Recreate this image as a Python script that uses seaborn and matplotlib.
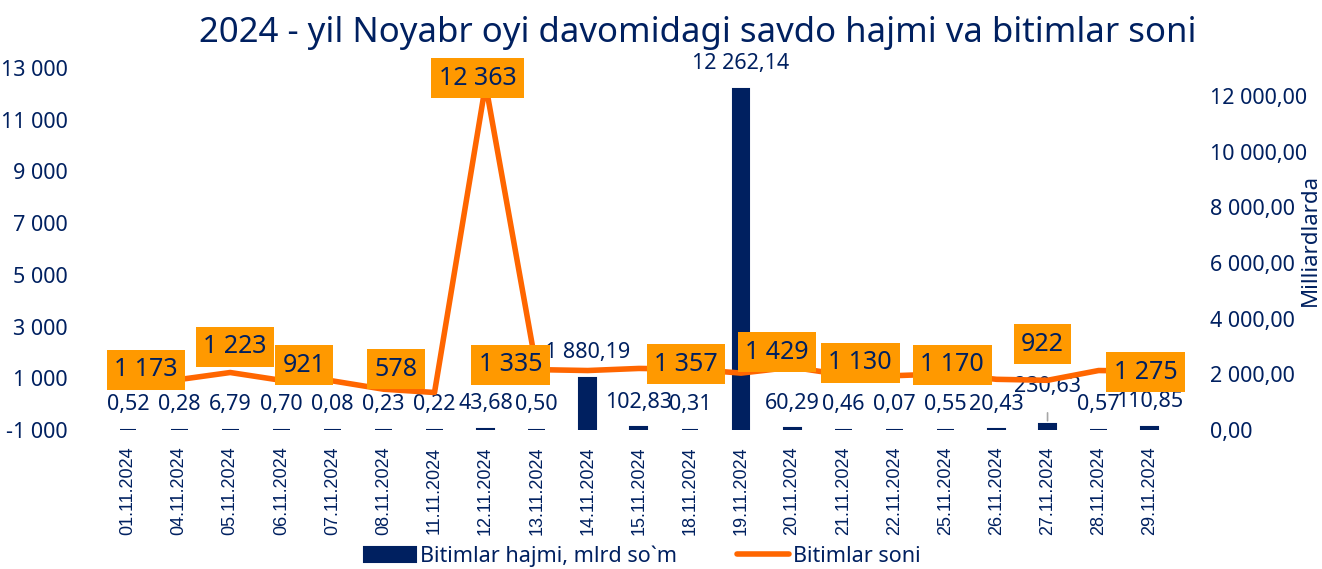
import numpy as np
import pandas as pd
import matplotlib
matplotlib.use("Agg")
import matplotlib.pyplot as plt
import seaborn as sns

sns.set_style("white")
plt.rcParams["font.family"] = ["Noto Sans", "DejaVu Sans"]

navy = "#002060"
line_col = "#FF6600"
box_col = "#FF9900"

dates = ["01.11.2024", "04.11.2024", "05.11.2024", "06.11.2024", "07.11.2024",
         "08.11.2024", "11.11.2024", "12.11.2024", "13.11.2024", "14.11.2024",
         "15.11.2024", "18.11.2024", "19.11.2024", "20.11.2024", "21.11.2024",
         "22.11.2024", "25.11.2024", "26.11.2024", "27.11.2024", "28.11.2024",
         "29.11.2024"]

# trade volume, bln sum (right axis)
hajmi = [0.52, 0.28, 6.79, 0.70, 0.08, 0.23, 0.22, 43.68, 0.50, 1880.19,
         102.83, 0.31, 12262.14, 60.29, 0.46, 0.07, 0.55, 20.43, 230.63, 0.57,
         110.85]

# number of deals (left axis)
soni = [1173, 950, 1223, 921, 900, 578, 450, 12363, 1335, 1300, 1380, 1357,
        1200, 1429, 1130, 1100, 1170, 960, 922, 1300, 1275]

# which points of the line carry a label
soni_labelled = [0, 2, 3, 5, 7, 8, 11, 13, 14, 16, 18, 20]
# label nudges in pixels (dx, dy)
soni_nudge = [(18, 4), (5, 26), (23, 15), (13, 20), (-8, 6), (-26, 5),
              (-4, 5), (-15, 15), (17, 12), (7, 9), (-5, 36), (-4, -1)]

left_ticks = list(range(-1000, 13001, 2000))
right_ticks = list(range(0, 12001, 2000))

df = pd.DataFrame({"sana": dates, "hajmi": hajmi, "soni": soni,
                   "pos": np.arange(len(dates))})


def fmt_int(v):
    return f"{v:,.0f}".replace(",", " ")


def fmt_dec(v):
    return f"{v:,.2f}".replace(",", " ").replace(".", ",")


fig = plt.figure(figsize=(13.22, 5.69), dpi=100)
ax = fig.add_axes([0.0775, 0.2443, 0.8115, 0.6362])

sns.barplot(data=df, x="sana", y="hajmi", color=navy, width=0.33,
            edgecolor=navy, linewidth=1.5, saturation=1,
            label="Bitimlar hajmi, mlrd so`m", ax=ax)
ax.set_ylim(0, 13000)
ax.set_xlim(-0.5, len(dates) - 0.5)
ax.set_xlabel("")
ax.set_ylabel("")
ax.tick_params(axis="x", length=0, pad=12, labelcolor=navy)
for lab in ax.get_xticklabels():
    lab.set_rotation(90)
    lab.set_fontfamily(["Liberation Sans", "DejaVu Sans"])
    lab.set_fontsize(13)

# bar value labels
for i, v in enumerate(hajmi):
    if dates[i] == "27.11.2024":
        ax.annotate(fmt_dec(v), (i, v), xytext=(0, 37), textcoords="offset pixels",
                    ha="center", va="center", fontsize=15.5, color=navy,
                    arrowprops=dict(arrowstyle="-", color="#A6A6A6", lw=1.2,
                                    shrinkA=9, shrinkB=2),
                    annotation_clip=False)
    else:
        ax.annotate(fmt_dec(v), (i, v), xytext=(0, 25), textcoords="offset pixels",
                    ha="center", va="center", fontsize=15.5, color=navy,
                    annotation_clip=False)

ax2 = ax.twinx()
sns.lineplot(data=df, x="pos", y="soni", color=line_col, linewidth=4,
             label="Bitimlar soni", ax=ax2)
ax2.set_ylim(-1000, 13000)
ax2.set_ylabel("")

# bars belong to the right axis, deals count to the left one
ax.yaxis.tick_right()
ax.set_yticks(right_ticks)
ax.set_yticklabels([fmt_dec(v) for v in right_ticks])
ax.tick_params(axis="y", length=0, pad=25, labelsize=15.5, labelcolor=navy)
ax2.yaxis.tick_left()
ax2.set_yticks(left_ticks)
ax2.set_yticklabels([fmt_int(v) for v in left_ticks])
ax2.tick_params(axis="y", length=0, pad=25, labelsize=15.5, labelcolor=navy)

for k, i in enumerate(soni_labelled):
    dx, dy = soni_nudge[k]
    ax2.annotate(fmt_int(soni[i]), (i, soni[i]), xytext=(dx, dy),
                 textcoords="offset pixels", ha="center", va="center",
                 fontsize=18, color=navy, annotation_clip=False,
                 bbox=dict(boxstyle="square,pad=0.3", fc=box_col, ec="none"))

for a in (ax, ax2):
    for s in a.spines.values():
        s.set_visible(False)

h1, l1 = ax.get_legend_handles_labels()
h2, l2 = ax2.get_legend_handles_labels()
for a in (ax, ax2):
    if a.get_legend() is not None:
        a.get_legend().remove()
fig.legend(h1 + h2, l1 + l2, loc="center", bbox_to_anchor=(0.486, 0.023),
           ncol=2, frameon=False, fontsize=15.5, labelcolor=navy,
           handlelength=2.4, handletextpad=0.2, columnspacing=2.8)

fig.text(0.528, 0.942, "2024 - yil Noyabr oyi davomidagi savdo hajmi va bitimlar soni",
         ha="center", va="center", fontsize=25, color=navy)
fig.text(0.991, 0.578, "Milliardlarda", rotation=90, ha="center", va="center",
         fontsize=16, color=navy)

fig.savefig("out.png", dpi=100)
